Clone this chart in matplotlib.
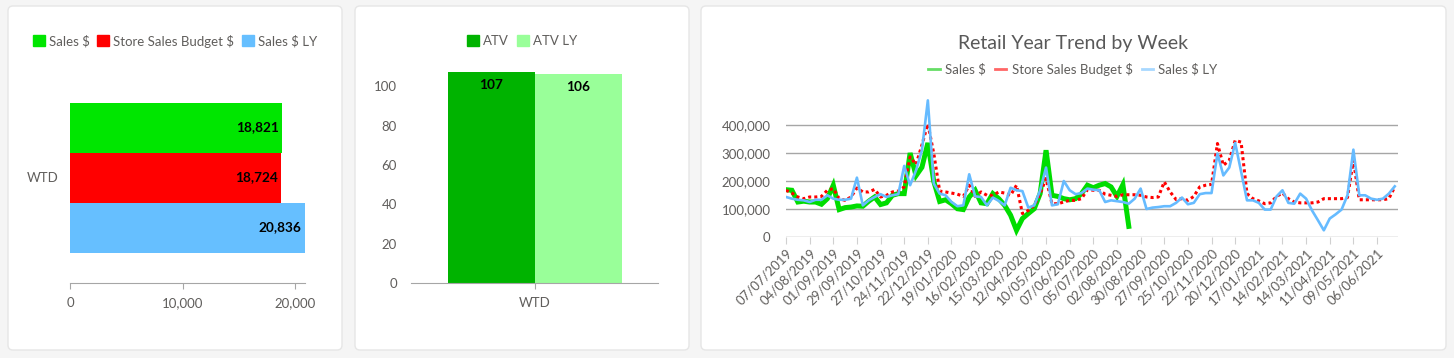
import pandas as pd
import matplotlib
matplotlib.use('Agg')
import matplotlib.pyplot as plt
from matplotlib.patches import FancyBboxPatch, Patch
from matplotlib.lines import Line2D
from matplotlib.ticker import FuncFormatter

plt.rcParams['font.family'] = ['Lato', 'DejaVu Sans']

# WTD sales panel
wtd_series = ['Sales $', 'Store Sales Budget $', 'Sales $ LY']
wtd_values = [18821, 18724, 20836]
wtd_colors = ['#00e600', '#ff0000', '#66bfff']

# ATV panel
atv_series = ['ATV', 'ATV LY']
atv_values = [107, 106]
atv_colors = ['#00b300', '#99ff99']

# weekly trend (values in $ thousands), first week 07/07/2019
week_start = '2019-07-07'
sales = [170, 168, 126, 129, 126, 126, 118, 138, 186, 99, 106, 108, 112, 111, 129, 144,
         117, 123, 150, 156, 156, 301, 220, 250, 337, 200, 128, 134, 120, 102, 99, 144,
         168, 123, 120, 156, 138, 114, 79, 25, 67, 85, 102, 156, 311, 150, 146, 138,
         134, 138, 156, 186, 177, 186, 192, 180, 146, 188, 39]
budget = [168, 158, 144, 138, 144, 144, 146, 168, 174, 138, 132, 144, 176, 162, 162, 171,
          144, 150, 162, 165, 180, 287, 260, 330, 405, 300, 165, 162, 158, 154, 146, 186,
          146, 162, 150, 150, 162, 158, 150, 186, 85, 96, 114, 156, 210, 120, 120, 126,
          132, 132, 138, 170, 168, 168, 154, 150, 146, 152, 152, 152, 150, 144, 142, 144,
          198, 162, 135, 138, 132, 146, 180, 186, 189, 335, 257, 275, 346, 340, 156, 138,
          130, 120, 123, 146, 158, 138, 126, 123, 123, 123, 126, 138, 138, 138, 138, 142,
          275, 134, 134, 134, 134, 134, 138, 180]
sales_ly = [144, 138, 134, 132, 126, 134, 134, 150, 138, 134, 134, 138, 213, 114, 132, 144,
            154, 144, 150, 154, 255, 186, 239, 311, 489, 192, 156, 150, 126, 111, 114, 225,
            146, 144, 114, 142, 130, 114, 177, 168, 165, 106, 114, 168, 249, 114, 118, 201,
            168, 154, 158, 174, 170, 168, 126, 132, 129, 126, 120, 138, 174, 101, 106, 108,
            111, 111, 123, 142, 118, 123, 154, 158, 158, 299, 221, 249, 337, 235, 132, 132,
            123, 99, 99, 146, 168, 123, 120, 156, 138, 96, 61, 25, 67, 82, 99, 150,
            313, 150, 150, 138, 134, 138, 156, 182]

W, H = 1454, 358
txt = '#605e5c'
axis_grey = '#a6a6a6'
fs = 9.5

fig = plt.figure(figsize=(W / 100, H / 100), dpi=100, facecolor='#f5f5f5')

# white cards behind each chart
for x0, x1 in [(8, 342), (355, 689), (701, 1446)]:
    card = FancyBboxPatch((x0 / 100, (H - 350) / 100), (x1 - x0) / 100, 344 / 100,
                          boxstyle='round,pad=0,rounding_size=0.05',
                          transform=fig.dpi_scale_trans, facecolor='white',
                          edgecolor='#e6e6e6', lw=1, zorder=-5)
    fig.patches.append(card)


def clean(ax):
    ax.set_facecolor('none')
    ax.set_zorder(2)
    for s in ['top', 'right', 'left']:
        ax.spines[s].set_visible(False)
    ax.spines['bottom'].set_color(axis_grey)
    ax.tick_params(colors=txt, labelsize=fs)


# ---- panel 1: WTD horizontal bars
ax1 = fig.add_axes([70 / W, 75 / H, 235 / W, 211 / H])
clean(ax1)
h = 50 / 211
for i, (val, col) in enumerate(zip(wtd_values, wtd_colors)):
    y = h * (1 - i)
    ax1.barh(y, val, height=h, color=col)
    ax1.annotate(f'{val:,}', (val, y), xytext=(-3, 0), textcoords='offset pixels',
                 ha='right', va='center', fontsize=9.8, fontweight='bold', color='black')
ax1.set_xlim(0, 20880)
ax1.set_ylim(-0.5, 0.5)
ax1.set_xticks([0, 10000, 20000])
ax1.xaxis.set_major_formatter(FuncFormatter(lambda v, p: f'{v:,.0f}'))
ax1.set_yticks([0])
ax1.set_yticklabels(['WTD'])
ax1.tick_params(axis='y', length=0, pad=8)
ax1.tick_params(axis='x', length=4, color=axis_grey, pad=6)
fig.legend([Patch(color=c) for c in wtd_colors], wtd_series, loc='center',
           bbox_to_anchor=(175 / W, 1 - 41 / H), ncol=3, frameon=False,
           handlelength=0.9, handleheight=0.9, handletextpad=0.3, columnspacing=0.6,
           fontsize=fs, labelcolor=txt)

# ---- panel 2: ATV columns
ax2 = fig.add_axes([411 / W, 75 / H, 247 / W, 213.3 / H])
clean(ax2)
bw = 87 / 247
for i, (val, col) in enumerate(zip(atv_values, atv_colors)):
    x = (i - 0.5) * bw
    ax2.bar(x, val, width=bw, color=col)
    ax2.annotate(f'{val}', (x, val), xytext=(0, -5), textcoords='offset points',
                 ha='center', va='top', fontsize=9.8, fontweight='bold', color='black')
ax2.set_xlim(-0.5, 0.5)
ax2.set_ylim(0, 108.4)
ax2.set_yticks(range(0, 101, 20))
ax2.set_xticks([0])
ax2.set_xticklabels(['WTD'])
ax2.tick_params(axis='y', length=0, pad=10)
ax2.tick_params(axis='x', length=4, color=axis_grey, pad=6)
fig.legend([Patch(color=c) for c in atv_colors], atv_series, loc='center',
           bbox_to_anchor=(522 / W, 1 - 41 / H), ncol=2, frameon=False,
           handlelength=0.9, handleheight=0.9, handletextpad=0.3, columnspacing=0.6,
           fontsize=fs, labelcolor=txt)

# ---- panel 3: weekly trend lines
dates = pd.date_range(week_start, periods=len(sales_ly), freq='7D')
ax3 = fig.add_axes([786 / W, 120.7 / H, 612 / W, 140 / H])
clean(ax3)
ax3.spines['bottom'].set_visible(False)
ax3.plot(range(len(sales)), [v * 1000 for v in sales], color='#00dd00', lw=3.6,
         solid_joinstyle='miter', zorder=3)
ax3.plot(range(len(budget)), [v * 1000 for v in budget], color='#ff0000', lw=2.2,
         linestyle=(0, (1, 1)), zorder=4)
ax3.plot(range(len(sales_ly)), [v * 1000 for v in sales_ly], color='#66bbff', lw=1.9,
         zorder=5)
ax3.set_ylim(0, 500000)
ax3.set_xlim(0, 103.55)
ax3.set_yticks(range(0, 400001, 100000))
ax3.yaxis.set_major_formatter(FuncFormatter(lambda v, p: f'{v:,.0f}'))
ax3.grid(axis='y', color=axis_grey, lw=1)
ax3.set_axisbelow(True)
ax3.tick_params(axis='y', length=0, pad=11)
tick_pos = list(range(0, len(dates), 4))
ax3.set_xticks(tick_pos)
ax3.set_xticklabels([dates[i].strftime('%d/%m/%Y') for i in tick_pos],
                    rotation=45, ha='right', rotation_mode='anchor')
ax3.tick_params(axis='x', length=5, color='#d0d0d0', pad=2)
fig.text(1073.5 / W, 1 - 43 / H, 'Retail Year Trend by Week', ha='center', va='center',
         fontsize=14, color='#595959')
fig.legend([Line2D([], [], color=c, lw=2) for c in ['#66dd66', '#ff6666', '#a8d8ff']],
           wtd_series, loc='center', bbox_to_anchor=(1073 / W, 1 - 69 / H), ncol=3,
           frameon=False, handlelength=0.85, handletextpad=0.4, columnspacing=0.7,
           fontsize=fs, labelcolor=txt)

plt.savefig('out.png', dpi=100, facecolor=fig.get_facecolor())
